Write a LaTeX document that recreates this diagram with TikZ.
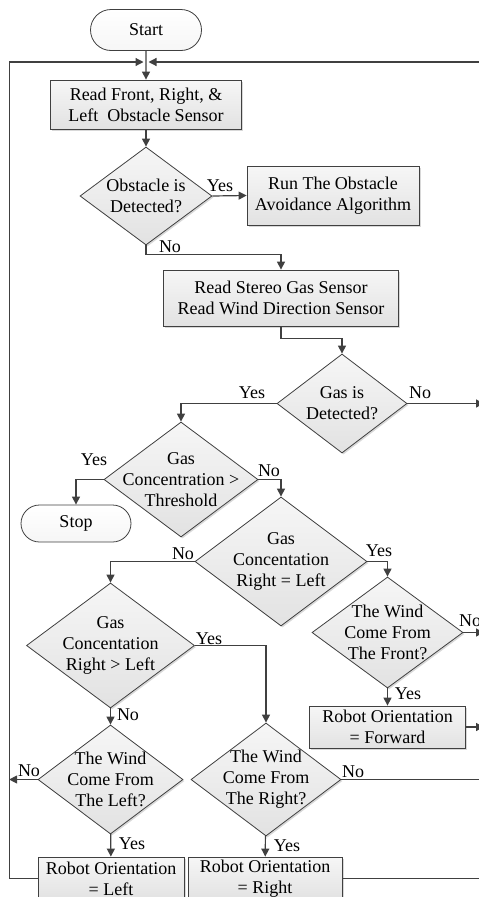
\documentclass[tikz,border=0pt]{standalone}
\usepackage{fontspec}
\setmainfont{Liberation Serif}
\usetikzlibrary{shapes.geometric,shapes.misc,arrows.meta,shadows}
\definecolor{edgec}{HTML}{404040}
\definecolor{lightfill}{HTML}{F6F6F6}
\definecolor{darkfill}{HTML}{E2E2E2}
\tikzset{
  process/.style={rectangle, draw=edgec, line width=0.8pt, top color=lightfill, bottom color=darkfill, drop shadow={shadow xshift=1.5pt, shadow yshift=-1.5pt, fill=gray!60}, align=center, inner sep=1pt},
  terminal/.style={rounded rectangle, draw=edgec, line width=0.8pt, top color=white, bottom color=lightfill, align=center, inner sep=1pt},
  decision/.style={diamond, draw=edgec, line width=0.8pt, top color=lightfill, bottom color=darkfill, drop shadow={shadow xshift=1.5pt, shadow yshift=-1.5pt, fill=gray!60}, inner sep=0pt},
  arr/.style={-{Triangle[length=8pt,width=8pt]}, line width=1.2pt, draw=edgec},
  wire/.style={line width=1.2pt, draw=edgec},
  lbl/.style={inner sep=0pt}
}

\begin{document}
\begin{tikzpicture}[x=1pt, y=1pt, every node/.style={font=\fontsize{18}{21}\selectfont}]
\useasboundingbox (0,0) rectangle (479,-897);
\clip (0,0) rectangle (479,-897);

\node[terminal, minimum width=113pt, minimum height=41pt] (start) at (146,-30) {Start};
\coordinate (join) at (146,-62);
\node[process, minimum width=191pt, minimum height=49pt] (read1) at (146,-104.5) {Read Front, Right, \&\\Left~~Obstacle Sensor};
\node[decision, minimum width=132pt, minimum height=98pt, label={[align=center]center:Obstacle is\\Detected?}] (obs) at (146,-196) {};
\node[process, minimum width=172pt, minimum height=59pt] (avoid) at (333,-195.5) {Run The Obstacle\\Avoidance Algorithm};
\node[process, minimum width=235pt, minimum height=56pt] (read2) at (281,-298) {Read Stereo Gas Sensor\\Read Wind Direction Sensor};
\node[decision, minimum width=130pt, minimum height=99pt, label={[align=center]center:Gas is\\Detected?}] (gas) at (342,-403.5) {};
\node[decision, minimum width=154pt, minimum height=115pt, label={[align=center]center:Gas\\Concentration >\\Threshold}] (thr) at (181,-479.5) {};
\node[terminal, minimum width=112pt, minimum height=37pt] (stop) at (76,-523.5) {Stop};
\node[decision, minimum width=172pt, minimum height=129pt, label={[align=center]center:Gas\\Concentation\\Right = Left}] (eq) at (281,-561.5) {};
\node[decision, minimum width=151pt, minimum height=111pt, label={[align=center]center:The Wind\\Come From\\The Front?}] (front) at (387.5,-632.5) {};
\node[process, minimum width=156pt, minimum height=42pt] (fwd) at (387.5,-727) {Robot Orientation\\= Forward};
\node[decision, minimum width=168pt, minimum height=125pt, label={[align=center]center:Gas\\Concentation\\Right > Left}] (gt) at (110.5,-645.5) {};
\node[decision, minimum width=145pt, minimum height=109pt, label={[align=center]center:The Wind\\Come From\\The Left?}] (lft) at (110.5,-779.5) {};
\node[decision, minimum width=150pt, minimum height=113pt, label={[align=center]center:The Wind\\Come From\\The Right?}] (rgt) at (266,-779.5) {};
\node[process, minimum width=146pt, minimum height=43pt] (orL) at (111,-878.5) {Robot Orientation\\= Left};
\node[process, minimum width=154pt, minimum height=43pt] (orR) at (265,-878.5) {Robot Orientation\\= Right};

\coordinate (loopR) at (490,-62);
\coordinate (loopRB) at (490,-878.5);
\coordinate (gasOut) at (484,-403.5);
\coordinate (frontOut) at (484,-632.5);
\coordinate (fwdOut) at (484,-727);
\coordinate (rightOut) at (490,-779.5);

\draw[arr] (start) -- (read1);
\draw[arr] (read1) -- (obs);
\draw[arr] (obs.east) -- (avoid.west);
\draw[arr] (obs.south) -- ++(0,-9) -| (read2);
\draw[arr] (read2.south) -- ++(0,-12) -| (gas);
\draw[arr] (gas.west) -| (thr);
\draw[arr] (gas.east) -- (gasOut);
\draw[arr] (thr.west) -| (stop);
\draw[arr] (thr.east) -| (eq);
\draw[arr] (eq.west) -| (gt);
\draw[arr] (eq.east) -| (front);
\draw[arr] (front.east) -- (frontOut);
\draw[arr] (front) -- (fwd);
\draw[arr] (fwd.east) -- (fwdOut);
\draw[arr] (gt.east) -| (rgt);
\draw[arr] (gt) -- (lft);
\draw[arr] (lft.west) -- ++(-28.5,0);
\draw[arr] (lft) -- (orL);
\draw[wire] (rgt.east) -- (rightOut);
\draw[arr] (rgt) -- (orR);
\draw[arr, shorten >=2.5pt] (orL.west) -- ++(-28,0) |- (join);
\draw[wire] (orR.east) -- (loopRB);
\draw[arr, shorten >=2.5pt] (loopR) -- (join);

\node[lbl] (yesObs) at (220,-186) {Yes};
\node[lbl] (noObs) at (170,-247) {No};
\node[lbl] (yesGas) at (252,-393) {Yes};
\node[lbl] (noGas) at (420,-393) {No};
\node[lbl] (yesThr) at (94,-460) {Yes};
\node[lbl] (noThr) at (269,-471) {No};
\node[lbl] (noEq) at (183,-554) {No};
\node[lbl] (yesEq) at (379,-551) {Yes};
\node[lbl] (noFront) at (470,-621) {No};
\node[lbl] (yesFront) at (408,-694) {Yes};
\node[lbl] (yesGt) at (209,-639) {Yes};
\node[lbl] (noGt) at (128,-715) {No};
\node[lbl] (noLft) at (29,-771) {No};
\node[lbl] (yesLft) at (132,-844) {Yes};
\node[lbl] (noRgt) at (353,-772) {No};
\node[lbl] (yesRgt) at (287,-846) {Yes};
\end{tikzpicture}
\end{document}
